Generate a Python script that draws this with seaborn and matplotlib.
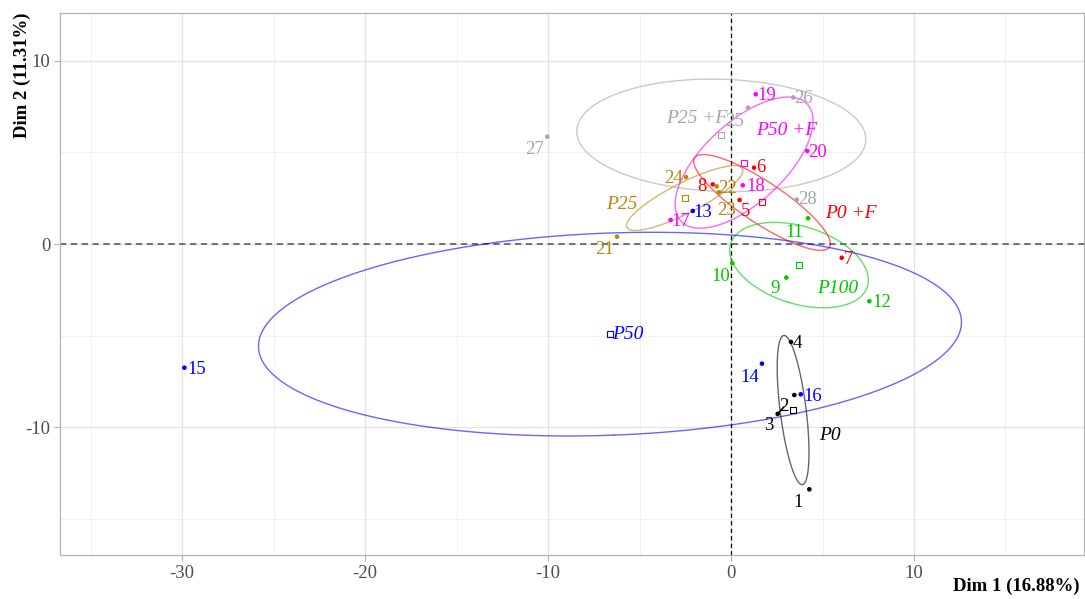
import numpy as np
import pandas as pd
import matplotlib
matplotlib.use('Agg')
import matplotlib.pyplot as plt
import seaborn as sns

# coordonnees des individus sur les deux premiers axes
individus = [str(i) for i in range(1, 29)]
groupes = (['P0'] * 4 + ['P0 +F'] * 4 + ['P100'] * 4 + ['P50'] * 4 +
           ['P50 +F'] * 4 + ['P25'] * 4 + ['P25 +F'] * 4)
dim1 = [4.28, 2.55, 3.46, 3.28, 0.47, 1.26, 6.05, -1.00, 3.02, 0.07, 4.21, 7.56,
        -2.09, 1.69, -29.87, 3.81, -3.30, 0.64, 1.35, 4.17, -6.23, -0.78, -0.66, -2.46,
        0.93, 3.40, -10.04, 3.59]
dim2 = [-13.37, -9.26, -8.23, -5.34, 2.40, 4.16, -0.75, 3.25, -1.83, -1.05, 1.40, -3.12,
        1.80, -6.52, -6.74, -8.19, 1.31, 3.20, 8.16, 5.07, 0.40, 3.14, 2.82, 3.65,
        7.43, 7.99, 5.85, 2.42]
noms_groupes = ['P0', 'P0 +F', 'P100', 'P25', 'P25 +F', 'P50', 'P50 +F']
couleurs = ['#000000', '#FF0000', '#00C800', '#B8860B', '#A6A6A6', '#0000FF', '#FF00FF']
x_label = 'Dim 1 (16.88%)'
y_label = 'Dim 2 (11.31%)'

pal = dict(zip(noms_groupes, couleurs))
df = pd.DataFrame({'ind': individus, 'groupe': groupes, 'Dim1': dim1, 'Dim2': dim2})
centres = df.groupby('groupe')[['Dim1', 'Dim2']].mean()

# decalage des etiquettes (pixels, vers la droite / vers le bas)
decal_ind = {'1': (-11, 13), '2': (6, -7), '3': (-26, 30), '4': (6, 2), '5': (6, 12),
             '6': (7, 0), '7': (7, 2), '8': (-11, 2), '9': (-11, 11), '10': (-12, 13),
             '11': (-14, 14), '12': (12, 1), '13': (10, 2), '14': (-12, 14), '15': (12, 2),
             '16': (12, 2), '17': (10, 2), '18': (13, 1), '19': (11, 1), '20': (10, 2),
             '21': (-13, 13), '22': (11, 2), '23': (8, 18), '24': (-13, 1), '25': (-14, 14),
             '26': (10, 1), '27': (-13, 13), '28': (11, 0)}
decal_grp = {'P0': (37, 25), 'P0 +F': (89, 11), 'P100': (39, 23), 'P25': (-63, 6),
             'P25 +F': (-25, -17), 'P50': (18, 0), 'P50 +F': (43, -32)}

sns.set_theme(style='whitegrid')
plt.rcParams['font.family'] = ['Liberation Serif', 'DejaVu Serif']
plt.rcParams['axes.unicode_minus'] = False

fig = plt.figure(figsize=(10.85, 5.99), dpi=100)
ax = fig.add_axes([60 / 1085, 44 / 599, 1024 / 1085, 542 / 599])
ax.set_facecolor('white')


def ellipse_confiance(x, y, niveau=0.95):
    # ellipse de confiance autour du barycentre (comme FactoMineR::coord.ellipse)
    x = np.asarray(x)
    y = np.asarray(y)
    cov = np.cov(x, y) / len(x)
    r = np.sqrt(-2 * np.log(1 - niveau))
    vals, vecs = np.linalg.eigh(cov)
    t = np.linspace(0, 2 * np.pi, 300)
    cercle = np.vstack([np.cos(t), np.sin(t)]) * np.sqrt(vals)[:, None] * r
    pts = vecs @ cercle
    return pts[0] + x.mean(), pts[1] + y.mean()


ax.axhline(0, color='0.4', lw=1.3, ls=(0, (3.5, 2.5)), zorder=1)
ax.axvline(0, color='black', lw=0.9, ls=(0, (3.5, 2.5)), zorder=1)

for g in noms_groupes:
    sub = df[df['groupe'] == g]
    ex, ey = ellipse_confiance(sub['Dim1'], sub['Dim2'])
    ax.plot(ex, ey, color=pal[g], lw=1.0, alpha=0.6, zorder=2)

sns.scatterplot(data=df, x='Dim1', y='Dim2', hue='groupe', palette=pal, s=11,
                edgecolor='none', legend=False, ax=ax, zorder=3)
ax.scatter(centres['Dim1'], centres['Dim2'], marker='s', s=18, facecolors='none',
           edgecolors=[pal[g] for g in centres.index], linewidths=0.8, zorder=3)

for _, row in df.iterrows():
    dx, dy = decal_ind[row['ind']]
    kw = {}
    if row['ind'] == '2':
        kw['arrowprops'] = dict(arrowstyle='-', color=pal[row['groupe']], lw=1.0,
                                shrinkA=0, shrinkB=1)
    ax.annotate(row['ind'], (row['Dim1'], row['Dim2']), xytext=(dx * 0.72, -dy * 0.72),
                textcoords='offset points', ha='center', va='center', fontsize=13.5,
                color=pal[row['groupe']], zorder=4, **kw)

for g in noms_groupes:
    dx, dy = decal_grp[g]
    ax.annotate(g, (centres.loc[g, 'Dim1'], centres.loc[g, 'Dim2']),
                xytext=(dx * 0.72, -dy * 0.72), textcoords='offset points',
                ha='center', va='center', fontsize=14, style='italic',
                color=pal[g], zorder=4)

ax.set_xlim(-36.67, 19.29)
ax.set_ylim(-16.95, 12.59)
ax.set_xticks([-30, -20, -10, 0, 10])
ax.set_yticks([-10, 0, 10])
ax.set_xticks(np.arange(-35, 20, 10), minor=True)
ax.set_yticks([-15, -5, 5], minor=True)
ax.grid(which='major', color='#E3E3E3', lw=0.9)
ax.grid(which='minor', color='#F0F0F0', lw=0.7)
ax.tick_params(which='major', length=4, width=0.8, color='#B3B3B3', labelsize=13.5,
               labelcolor='#4D4D4D', pad=3, bottom=True, left=True)
ax.tick_params(which='minor', length=0)
for sp in ax.spines.values():
    sp.set_color('#B3B3B3')
    sp.set_linewidth(0.9)

ax.set_xlabel(x_label, fontsize=13.5, fontweight='bold', color='black', loc='right')
ax.set_ylabel(y_label, fontsize=13.5, fontweight='bold', color='black', loc='top')
ax.xaxis.set_label_coords(0.996, -0.042)
ax.yaxis.set_label_coords(-0.028, 1.0)

fig.savefig('out.png', dpi=100)
